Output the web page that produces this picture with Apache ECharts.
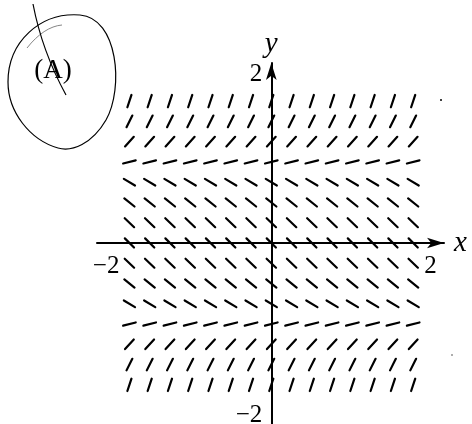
<!DOCTYPE html>
<html>
<head>
<meta charset="utf-8">
<script src="https://cdn.jsdelivr.net/npm/echarts@6/dist/echarts.min.js"></script>
<style>
  html, body { margin: 0; padding: 0; background: #fff; }
  #main { width: 472px; height: 424px; }
</style>
</head>
<body>
<div id="main"></div>
<script>
// grid of the slope field (x columns, y rows)
var xs = [-1.75, -1.5, -1.25, -1, -0.75, -0.5, -0.25, 0, 0.25, 0.5, 0.75, 1, 1.25, 1.5, 1.75];
var ys = [-1.75, -1.5, -1.25, -1, -0.75, -0.5, -0.25, 0, 0.25, 0.5, 0.75, 1, 1.25, 1.5, 1.75];
// slope (depends on y only)
var rowSlopes = [3.0, 2.0, 1.1, 0.25, -0.6, -0.8, -0.95, -1.0, -0.95, -0.8, -0.6, 0.25, 1.1, 2.0, 3.0];
// tick labels
var xTicks = [-2, 2];
var yTicks = [-2, 2];

var myChart = echarts.init(document.getElementById('main'));

var fieldData = [];
for (var j = 0; j < ys.length; j++) {
  for (var i = 0; i < xs.length; i++) {
    fieldData.push([xs[i], ys[j], rowSlopes[j]]);
  }
}

var HALF = 0.08; // half length of a dash, data units
var serif = '"Liberation Serif", "Times New Roman", serif';

function renderDash(params, api) {
  var x = api.value(0), y = api.value(1), m = api.value(2);
  var d = Math.sqrt(1 + m * m);
  var dx = HALF / d, dy = HALF * m / d;
  var p1 = api.coord([x - dx, y - dy]);
  var p2 = api.coord([x + dx, y + dy]);
  return {
    type: 'line',
    shape: { x1: p1[0], y1: p1[1], x2: p2[0], y2: p2[1] },
    style: { stroke: '#000', lineWidth: 2.2, lineCap: 'round' }
  };
}

function fmtTick(v) {
  return v < 0 ? '\u2212' + Math.abs(v) : String(v);
}

// tick labels sit on the axes through the origin
function renderXTick(params, api) {
  var v = api.value(0);
  var p = api.coord([v, 0]);
  return {
    type: 'text',
    x: p[0] - 3, y: p[1] + 11,
    style: { text: fmtTick(v), font: '25px ' + serif, fill: '#000', align: 'center', verticalAlign: 'top' }
  };
}
function renderYTick(params, api) {
  var v = api.value(1);
  var p = api.coord([0, v]);
  return {
    type: 'text',
    x: p[0] - 9, y: p[1] + (v > 0 ? -6 : 10),
    style: { text: fmtTick(v), font: '25px ' + serif, fill: '#000', align: 'right', verticalAlign: 'middle' }
  };
}

// hand drawn marks around the "(A)"
function curve(x1, y1, c1x, c1y, c2x, c2y, x2, y2, col, w) {
  return {
    type: 'bezierCurve',
    shape: { x1: x1, y1: y1, cpx1: c1x, cpy1: c1y, cpx2: c2x, cpy2: c2y, x2: x2, y2: y2 },
    style: { fill: null, stroke: col, lineWidth: w }
  };
}

myChart.setOption({
  backgroundColor: '#fff',
  animation: false,
  grid: { left: 97, right: 28, top: 63, bottom: 0, outerBoundsMode: 'none' },
  xAxis: {
    type: 'value',
    min: -2.15,
    max: 2.13,
    name: 'x',
    nameLocation: 'end',
    nameGap: 10,
    nameTextStyle: { fontFamily: serif, fontStyle: 'italic', fontSize: 29, color: '#000' },
    axisLine: {
      onZero: true,
      symbol: ['none', 'arrow'],
      symbolSize: [8, 17],
      lineStyle: { color: '#000', width: 2 }
    },
    axisTick: { show: false },
    splitLine: { show: false },
    axisLabel: { show: false }
  },
  yAxis: {
    type: 'value',
    min: -2.233,
    max: 2.22,
    name: 'y',
    nameLocation: 'end',
    nameGap: 4,
    nameTextStyle: { fontFamily: serif, fontStyle: 'italic', fontSize: 29, color: '#000' },
    axisLine: {
      onZero: true,
      symbol: ['none', 'arrow'],
      symbolSize: [8, 17],
      lineStyle: { color: '#000', width: 2 }
    },
    axisTick: { show: false },
    splitLine: { show: false },
    axisLabel: { show: false }
  },
  graphic: [
    curve(80, 15, 118, 18, 124, 88, 106, 120, '#000', 1.2),
    curve(106, 120, 92, 144, 72, 152, 58, 148, '#000', 1.2),
    curve(58, 148, 30, 140, 8, 112, 8, 82, '#000', 1.2),
    curve(8, 82, 8, 42, 40, 12, 80, 15, '#000', 1.2),
    curve(27, 48, 38, 34, 50, 26, 62, 25, '#666', 0.8),
    curve(33, 4, 38, 30, 48, 62, 66, 95, '#000', 1.2),
    {
      type: 'text',
      x: 53, y: 71,
      style: {
        text: '(A)', font: '27px ' + serif, fill: '#000',
        align: 'center', verticalAlign: 'middle'
      }
    },
    { type: 'circle', shape: { cx: 441, cy: 100, r: 1 }, style: { fill: '#000' } },
    { type: 'circle', shape: { cx: 452, cy: 355, r: 0.8 }, style: { fill: '#444' } }
  ],
  series: [
    {
      name: 'field',
      type: 'custom',
      renderItem: renderDash,
      data: fieldData,
      clip: false,
      silent: true
    },
    {
      name: 'xticks',
      type: 'custom',
      renderItem: renderXTick,
      data: xTicks.map(function (v) { return [v, 0]; }),
      clip: false,
      silent: true
    },
    {
      name: 'yticks',
      type: 'custom',
      renderItem: renderYTick,
      data: yTicks.map(function (v) { return [0, v]; }),
      clip: false,
      silent: true
    }
  ]
});
</script>
</body>
</html>
